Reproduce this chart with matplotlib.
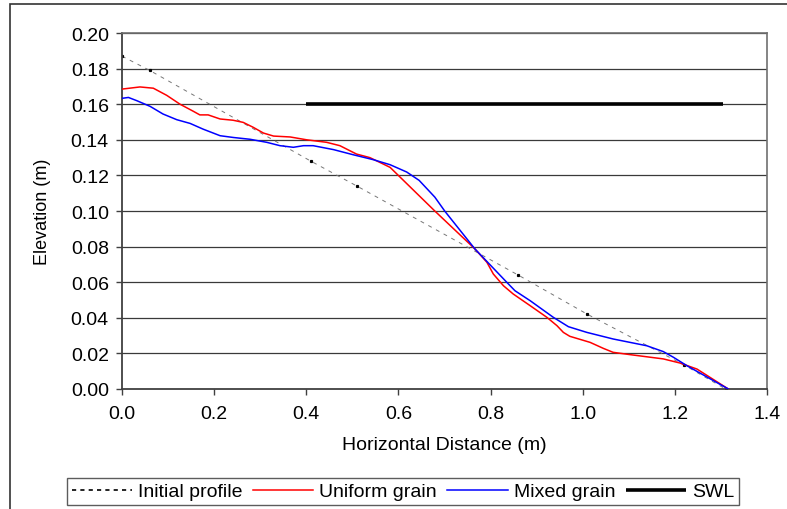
import numpy as np
import matplotlib
matplotlib.use('Agg')
import matplotlib.pyplot as plt
from matplotlib.patches import Rectangle

plt.rcParams['font.family'] = ['Liberation Sans', 'DejaVu Sans']

# Initial profile (measured points)
x_ini = [0.0, 0.06, 0.41, 0.51, 0.86, 1.01, 1.22, 1.31]
y_ini = [0.187, 0.179, 0.128, 0.114, 0.064, 0.042, 0.0135, 0.0]

# Uniform grain profile
x_uni = [0.0, 0.01, 0.039, 0.068, 0.097, 0.126, 0.155, 0.169, 0.187, 0.213,
         0.241, 0.263, 0.285, 0.307, 0.329, 0.365, 0.401, 0.444, 0.473, 0.509,
         0.538, 0.567, 0.582, 0.679, 0.766, 0.792, 0.806, 0.828, 0.849, 0.886,
         0.922, 0.944, 0.958, 0.972, 1.016, 1.045, 1.066, 1.103, 1.175, 1.211,
         1.248, 1.316]
y_uni = [0.1685, 0.1688, 0.1697, 0.169, 0.165, 0.160, 0.156, 0.154, 0.154, 0.1517,
         0.151, 0.1498, 0.147, 0.1438, 0.1421, 0.1416, 0.140, 0.1386, 0.1367, 0.132,
         0.130, 0.1264, 0.1245, 0.100, 0.0787, 0.0712, 0.0646, 0.058, 0.0534, 0.0468,
         0.0403, 0.0356, 0.0318, 0.0296, 0.0262, 0.0228, 0.0206, 0.0193, 0.0169, 0.0146,
         0.0112, 0.0]

# Mixed grain profile
x_mix = [0.0, 0.014, 0.032, 0.061, 0.089, 0.119, 0.148, 0.176, 0.213, 0.242,
         0.278, 0.314, 0.343, 0.372, 0.394, 0.415, 0.459, 0.502, 0.546, 0.582,
         0.618, 0.645, 0.679, 0.701, 0.766, 0.835, 0.853, 0.886, 0.936, 0.969,
         1.009, 1.066, 1.139, 1.175, 1.197, 1.226, 1.316]
y_mix = [0.1633, 0.1638, 0.162, 0.1588, 0.1545, 0.1513, 0.1492, 0.146, 0.1423, 0.1413,
         0.1403, 0.1386, 0.1367, 0.1358, 0.1367, 0.1367, 0.1345, 0.1316, 0.1288, 0.126,
         0.1219, 0.1172, 0.1078, 0.0998, 0.0787, 0.060, 0.0552, 0.0496, 0.0403, 0.035,
         0.0318, 0.0281, 0.0243, 0.021, 0.0178, 0.0131, 0.0]

# Still water level
x_swl = [0.4, 1.305]
y_swl = [0.16, 0.16]

fig = plt.figure(figsize=(7.87, 5.10), dpi=100)
ax = fig.add_axes([0.155, 0.2353, 0.8196, 0.698])

for yy in np.arange(0.02, 0.201, 0.02):
    ax.axhline(yy, color='#3a3a3a', lw=0.9, zorder=1)

ax.plot(x_ini, y_ini, color='#777777', lw=0.7, ls=(0, (4, 5)), marker='s', ms=1.3,
        mfc='black', mec='black', label='Initial profile', zorder=2)
ax.plot(x_uni, y_uni, color='#ff0000', lw=1.1, label='Uniform grain', zorder=3)
ax.plot(x_mix, y_mix, color='#0000ff', lw=1.1, label='Mixed grain', zorder=4)
ax.plot(x_swl, y_swl, color='black', lw=2.6, label='SWL', zorder=5, solid_capstyle='butt')

ax.set_xlim(0, 1.4)
ax.set_ylim(0, 0.2)
ax.set_xticks(np.arange(0, 1.41, 0.2))
ax.set_yticks(np.arange(0, 0.201, 0.02))
ax.set_xticklabels(['%.1f' % v for v in np.arange(0, 1.41, 0.2)])
ax.set_yticklabels(['%.2f' % v for v in np.arange(0, 0.201, 0.02)])
ax.tick_params(axis='both', direction='out', length=4.5, width=1, color='#404040',
               labelsize=14)
ax.tick_params(axis='x', pad=7)
ax.tick_params(axis='y', pad=5)

for s in ['left', 'bottom']:
    ax.spines[s].set_color('#404040')
    ax.spines[s].set_linewidth(1.3)
for s in ['top', 'right']:
    ax.spines[s].set_color('#707070')
    ax.spines[s].set_linewidth(1.2)

ax.set_xlabel('Horizontal Distance (m)', fontsize=14)
ax.set_ylabel('Elevation (m)', fontsize=13)
ax.xaxis.set_label_coords(0.5, -0.155)
ax.xaxis.label.set_va('center')
ax.yaxis.set_label_coords(-0.124, 0.5)
ax.yaxis.label.set_va('center')

leg = ax.legend(loc='center', bbox_to_anchor=(0.512, 0.034), bbox_transform=fig.transFigure,
                ncol=4, fontsize=14, frameon=True, fancybox=False, handlelength=3.1,
                handletextpad=0.3, columnspacing=0.55, borderpad=0.25, borderaxespad=0)
leg.get_frame().set_edgecolor('#333333')
leg.get_frame().set_linewidth(1.0)
for h in leg.legend_handles:
    h.set_marker('')
leg.legend_handles[0].set_color('black')
leg.legend_handles[0].set_linewidth(1.2)
leg.legend_handles[0].set_linestyle((0, (2.5, 2.5)))

fig.add_artist(Rectangle((10 / 787, -0.05), 1.2, 1.0 - 5 / 510 + 0.05, transform=fig.transFigure,
                         fill=False, edgecolor='#333333', lw=1.2))

plt.savefig('out.png', dpi=100)
